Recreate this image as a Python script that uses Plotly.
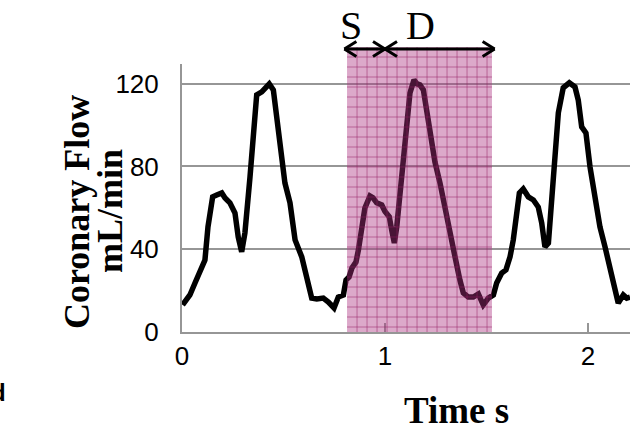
import plotly.graph_objects as go

# ---- data ----
time_s = [0.003, 0.039, 0.064, 0.097, 0.113, 0.128, 0.151, 0.171, 0.196, 0.212,
          0.236, 0.261, 0.277, 0.294, 0.310, 0.335, 0.351, 0.368, 0.393, 0.417,
          0.430, 0.450, 0.466, 0.491, 0.507, 0.532, 0.557, 0.590, 0.614, 0.639,
          0.664, 0.696, 0.721, 0.749, 0.770, 0.795, 0.808, 0.823, 0.837, 0.857,
          0.869, 0.884, 0.901, 0.926, 0.941, 0.959, 0.984, 1.000, 1.021, 1.033,
          1.046, 1.058, 1.074, 1.090, 1.107, 1.123, 1.143, 1.158, 1.172, 1.189,
          1.205, 1.222, 1.238, 1.246, 1.271, 1.296, 1.320, 1.345, 1.369, 1.386,
          1.410, 1.435, 1.460, 1.484, 1.509, 1.534, 1.550, 1.575, 1.596, 1.616,
          1.632, 1.649, 1.662, 1.681, 1.706, 1.731, 1.755, 1.772, 1.788, 1.805,
          1.821, 1.837, 1.854, 1.878, 1.908, 1.936, 1.952, 1.969, 1.990, 2.010,
          2.034, 2.059, 2.084, 2.100, 2.125, 2.149, 2.174, 2.191, 2.207]
flow_ml_min = [13.1, 17.9, 23.7, 32.4, 34.8, 50.8, 65.3, 66.2, 67.2, 64.8,
               62.4, 57.5, 45.9, 38.7, 47.9, 74.9, 99.1, 114.6, 116.0, 118.4,
               119.9, 117.0, 103.9, 88.0, 72.0, 62.4, 44.5, 36.3, 26.6, 16.4,
               16.0, 16.4, 14.5, 11.6, 16.9, 17.9, 25.1, 26.6, 30.9, 33.8,
               39.6, 50.3, 59.9, 65.7, 64.8, 62.4, 61.4, 58.2, 55.7, 49.3,
               43.0, 50.8, 67.2, 84.6, 99.1, 115.5, 121.8, 119.9, 119.4, 117.0,
               107.3, 96.2, 84.6, 82.2, 72.0, 59.0, 46.9, 36.3, 25.1, 18.9,
               16.9, 16.9, 18.4, 13.1, 16.4, 17.9, 23.7, 28.5, 30.0, 36.3,
               44.5, 57.5, 67.2, 69.1, 65.3, 63.8, 60.4, 52.7, 41.1, 43.0,
               62.4, 83.1, 105.9, 118.0, 120.4, 118.4, 112.1, 99.1, 96.2, 79.8,
               63.8, 50.8, 41.1, 34.8, 25.1, 14.0, 17.9, 16.4, 16.9]
x_tick_vals = [0, 1, 2]
x_tick_text = ["0", "1", "2"]
y_tick_vals = [0, 40, 80, 120]
y_tick_text = ["0", "40", "80", "120"]
systole = [0.80, 1.00]     # S interval (s)
diastole = [1.00, 1.54]    # D interval (s)
shaded = [0.813, 1.527]    # highlighted beat (s)

# ---- layout geometry ----
W, H = 630, 430
ML, MR, MT, MB = 182, 0, 64, 98
XMAX, YMAX = 2.207, 129.5
PW, PH = W - ML - MR, H - MT - MB

SERIF = "Times New Roman, Liberation Serif, serif"
SANS = "Arial, Liberation Sans, sans-serif"
GRAY = "#969696"

def pxx(px):
    return (px - ML) / PW

def pxy(py):
    return (H - MB - py) / PH

def dx(t):
    return t / XMAX

fig = go.Figure()
fig.add_trace(go.Scatter(x=time_s, y=flow_ml_min, mode="lines",
                         line=dict(color="black", width=5.5),
                         hoverinfo="skip", showlegend=False))

shapes = []
top_py = 47
shade_top = pxy(top_py)
x0p, x1p = dx(shaded[0]), dx(shaded[1])
shapes.append(dict(type="rect", xref="paper", yref="paper", x0=x0p, x1=x1p,
                   y0=0, y1=shade_top, line=dict(width=0),
                   fillcolor="rgba(172,50,128,0.42)", layer="above"))
grid_col = "rgba(150,30,100,0.5)"
sp = 10
xa = ML + x0p * PW
xb = ML + x1p * PW
gx = xa + sp
while gx < xb - 1:
    shapes.append(dict(type="line", xref="paper", yref="paper",
                       x0=pxx(gx), x1=pxx(gx), y0=0, y1=shade_top,
                       line=dict(color=grid_col, width=1), layer="above"))
    gx += sp
gy = top_py + sp
while gy < H - MB - 1:
    shapes.append(dict(type="line", xref="paper", yref="paper",
                       x0=x0p, x1=x1p, y0=pxy(gy), y1=pxy(gy),
                       line=dict(color=grid_col, width=1), layer="above"))
    gy += sp

# S / D double arrows (line + open chevrons)
ay_px = 49
arrow_line = dict(color="black", width=3)
shapes.append(dict(type="line", xref="paper", yref="paper",
                   x0=dx(systole[0]), x1=dx(diastole[1]), y0=pxy(ay_px), y1=pxy(ay_px),
                   line=arrow_line, layer="above"))
head_len, head_half = 12, 7.5
def chevron(tip_t, direction):
    tip_px = ML + dx(tip_t) * PW
    back = tip_px - direction * head_len
    for s in (-1, 1):
        shapes.append(dict(type="line", xref="paper", yref="paper",
                           x0=pxx(tip_px), y0=pxy(ay_px),
                           x1=pxx(back), y1=pxy(ay_px + s * head_half),
                           line=arrow_line, layer="above"))
chevron(systole[0], -1)
chevron(systole[1], +1)
chevron(diastole[0], -1)
chevron(diastole[1], +1)

annotations = [
    dict(text="S", x=pxx(351), xref="paper", y=pxy(25), yref="paper",
         xanchor="center", yanchor="middle", showarrow=False,
         font=dict(family=SERIF, size=40, color="black")),
    dict(text="D", x=pxx(420), xref="paper", y=pxy(25), yref="paper",
         xanchor="center", yanchor="middle", showarrow=False,
         font=dict(family=SERIF, size=40, color="black")),
    dict(text="<b>Coronary Flow</b>", textangle=-90,
         x=pxx(77), xref="paper", y=pxy(212), yref="paper",
         xanchor="center", yanchor="middle", showarrow=False,
         font=dict(family=SERIF, size=36, color="black")),
    dict(text="<b>mL/min</b>", textangle=-90,
         x=pxx(110), xref="paper", y=pxy(211), yref="paper",
         xanchor="center", yanchor="middle", showarrow=False,
         font=dict(family=SERIF, size=36, color="black")),
    dict(text="<b>Time s</b>", x=pxx(456), xref="paper",
         y=pxy(410), yref="paper", xanchor="center", yanchor="middle",
         showarrow=False, font=dict(family=SERIF, size=37, color="black")),
    dict(text="<b>d</b>", x=pxx(8), xref="paper", xanchor="right",
         y=pxy(392), yref="paper", yanchor="middle", showarrow=False,
         font=dict(family=SANS, size=24, color="black")),
]

fig.update_layout(
    width=W, height=H, margin=dict(l=ML, r=MR, t=MT, b=MB),
    paper_bgcolor="white", plot_bgcolor="white",
    shapes=shapes, annotations=annotations,
    xaxis=dict(range=[0, XMAX], tickmode="array", tickvals=x_tick_vals,
               ticktext=x_tick_text, showgrid=False, zeroline=False,
               showline=True, linecolor=GRAY, linewidth=2,
               ticks="inside", ticklen=9, tickwidth=2, tickcolor=GRAY,
               tickfont=dict(family=SANS, size=26, color="black"),
               ticklabelstandoff=0),
    yaxis=dict(range=[0, YMAX], tickmode="array", tickvals=y_tick_vals,
               ticktext=y_tick_text, showgrid=True, gridcolor=GRAY, gridwidth=2,
               zeroline=False, showline=True, linecolor=GRAY, linewidth=2,
               ticks="", tickfont=dict(family=SANS, size=26, color="black"),
               ticklabelstandoff=16),
)

fig.write_html("out.html", config={"displayModeBar": False},
               post_script="document.body.style.margin='0px';"
                           "document.body.style.overflow='hidden';")
